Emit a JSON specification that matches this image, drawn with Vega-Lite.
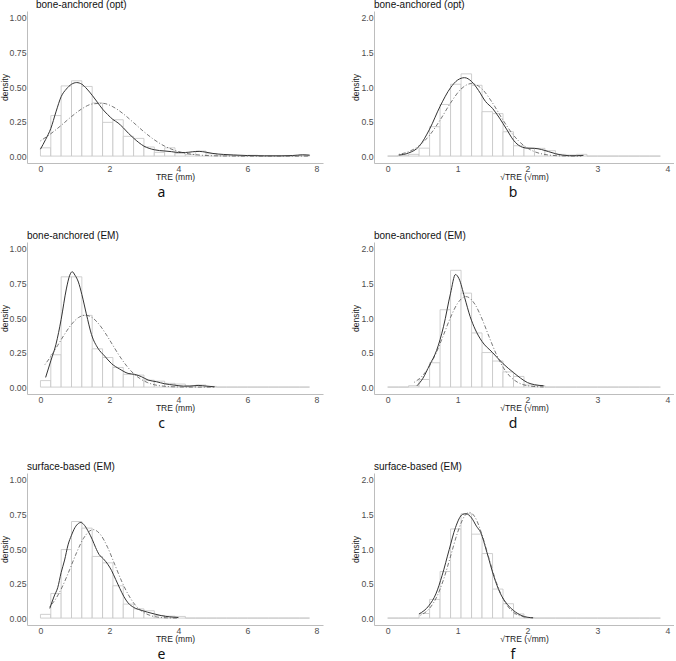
{
 "$schema": "https://vega.github.io/schema/vega-lite/v6.json",
 "padding": {"left": 0, "top": 0, "right": 0, "bottom": 0},
 "background": "white",
 "config": {
  "view": {"stroke": null},
  "font": "Liberation Sans",
  "axis": {"grid": false, "ticks": false, "domainColor": "#bdbdbd", "domainWidth": 1, "labelColor": "#4d4d4d", "labelFontSize": 8.7, "labelFont": "Liberation Sans", "titleFont": "Liberation Sans", "titleFontSize": 8.5, "titleFontWeight": "normal", "titleColor": "#1a1a1a", "labelFlush": false},
  "axisY": {"titlePadding": 0, "labelPadding": 1},
  "axisX": {"titlePadding": 0, "labelPadding": 1},
  "title": {"fontWeight": "normal"}
 },
 "datasets": {
  "hist": [
   {"p":"a","x":0,"x1":0.3,"y":0.06},{"p":"a","x":0.3,"x1":0.6,"y":0.293},{"p":"a","x":0.6,"x1":0.9,"y":0.508},{"p":"a","x":0.9,"x1":1.2,"y":0.545},{"p":"a","x":1.2,"x1":1.5,"y":0.504},{"p":"a","x":1.5,"x1":1.8,"y":0.385},{"p":"a","x":1.8,"x1":2.1,"y":0.244},{"p":"a","x":2.1,"x1":2.4,"y":0.263},{"p":"a","x":2.4,"x1":2.7,"y":0.143},{"p":"a","x":2.7,"x1":3.0,"y":0.128},{"p":"a","x":3.0,"x1":3.3,"y":0.066},{"p":"a","x":3.3,"x1":3.6,"y":0.027},{"p":"a","x":3.6,"x1":3.9,"y":0.06},{"p":"a","x":3.9,"x1":4.2,"y":0.018},{"p":"a","x":4.2,"x1":4.5,"y":0.012},{"p":"a","x":4.5,"x1":4.8,"y":0.036},{"p":"a","x":4.8,"x1":5.1,"y":0.017},{"p":"a","x":5.1,"x1":5.4,"y":0.006},{"p":"a","x":5.4,"x1":5.7,"y":0.006},{"p":"a","x":5.7,"x1":6.0,"y":0},{"p":"a","x":6.0,"x1":6.3,"y":0.006},{"p":"a","x":6.3,"x1":6.6,"y":0},{"p":"a","x":6.6,"x1":6.9,"y":0},{"p":"a","x":6.9,"x1":7.2,"y":0},{"p":"a","x":7.2,"x1":7.5,"y":0},{"p":"a","x":7.5,"x1":7.8,"y":0.01},
   {"p":"b","x":0,"x1":0.15,"y":0},{"p":"b","x":0.15,"x1":0.3,"y":0.012},{"p":"b","x":0.3,"x1":0.45,"y":0.025},{"p":"b","x":0.45,"x1":0.6,"y":0.115},{"p":"b","x":0.6,"x1":0.75,"y":0.425},{"p":"b","x":0.75,"x1":0.9,"y":0.747},{"p":"b","x":0.9,"x1":1.05,"y":1.04},{"p":"b","x":1.05,"x1":1.2,"y":1.19},{"p":"b","x":1.2,"x1":1.35,"y":1.025},{"p":"b","x":1.35,"x1":1.5,"y":0.643},{"p":"b","x":1.5,"x1":1.65,"y":0.615},{"p":"b","x":1.65,"x1":1.8,"y":0.352},{"p":"b","x":1.8,"x1":1.95,"y":0.15},{"p":"b","x":1.95,"x1":2.1,"y":0.115},{"p":"b","x":2.1,"x1":2.25,"y":0.112},{"p":"b","x":2.25,"x1":2.4,"y":0.078},{"p":"b","x":2.4,"x1":2.55,"y":0.025},{"p":"b","x":2.55,"x1":2.7,"y":0.015},{"p":"b","x":2.7,"x1":2.85,"y":0.025},{"p":"b","x":2.85,"x1":3.0,"y":0},{"p":"b","x":3.0,"x1":3.15,"y":0},{"p":"b","x":3.15,"x1":3.3,"y":0},{"p":"b","x":3.3,"x1":3.45,"y":0},{"p":"b","x":3.45,"x1":3.6,"y":0},{"p":"b","x":3.6,"x1":3.75,"y":0},{"p":"b","x":3.75,"x1":3.9,"y":0},
   {"p":"c","x":0,"x1":0.3,"y":0.047},{"p":"c","x":0.3,"x1":0.6,"y":0.234},{"p":"c","x":0.6,"x1":0.9,"y":0.798},{"p":"c","x":0.9,"x1":1.2,"y":0.798},{"p":"c","x":1.2,"x1":1.5,"y":0.519},{"p":"c","x":1.5,"x1":1.8,"y":0.277},{"p":"c","x":1.8,"x1":2.1,"y":0.214},{"p":"c","x":2.1,"x1":2.4,"y":0.142},{"p":"c","x":2.4,"x1":2.7,"y":0.092},{"p":"c","x":2.7,"x1":3.0,"y":0.087},{"p":"c","x":3.0,"x1":3.3,"y":0.05},{"p":"c","x":3.3,"x1":3.6,"y":0.043},{"p":"c","x":3.6,"x1":3.9,"y":0.027},{"p":"c","x":3.9,"x1":4.2,"y":0.022},{"p":"c","x":4.2,"x1":4.5,"y":0.01},{"p":"c","x":4.5,"x1":4.8,"y":0.015},{"p":"c","x":4.8,"x1":5.1,"y":0.005},{"p":"c","x":5.1,"x1":5.4,"y":0},{"p":"c","x":5.4,"x1":5.7,"y":0},{"p":"c","x":5.7,"x1":6.0,"y":0},{"p":"c","x":6.0,"x1":6.3,"y":0},{"p":"c","x":6.3,"x1":6.6,"y":0},{"p":"c","x":6.6,"x1":6.9,"y":0},{"p":"c","x":6.9,"x1":7.2,"y":0},{"p":"c","x":7.2,"x1":7.5,"y":0},{"p":"c","x":7.5,"x1":7.8,"y":0},
   {"p":"d","x":0,"x1":0.15,"y":0},{"p":"d","x":0.15,"x1":0.3,"y":0},{"p":"d","x":0.3,"x1":0.45,"y":0.02},{"p":"d","x":0.45,"x1":0.6,"y":0.11},{"p":"d","x":0.6,"x1":0.75,"y":0.352},{"p":"d","x":0.75,"x1":0.9,"y":1.12},{"p":"d","x":0.9,"x1":1.05,"y":1.69},{"p":"d","x":1.05,"x1":1.2,"y":1.36},{"p":"d","x":1.2,"x1":1.35,"y":0.784},{"p":"d","x":1.35,"x1":1.5,"y":0.5},{"p":"d","x":1.5,"x1":1.65,"y":0.377},{"p":"d","x":1.65,"x1":1.8,"y":0.22},{"p":"d","x":1.8,"x1":1.95,"y":0.154},{"p":"d","x":1.95,"x1":2.1,"y":0.03},{"p":"d","x":2.1,"x1":2.25,"y":0.02},{"p":"d","x":2.25,"x1":2.4,"y":0},{"p":"d","x":2.4,"x1":2.55,"y":0},{"p":"d","x":2.55,"x1":2.7,"y":0},{"p":"d","x":2.7,"x1":2.85,"y":0},{"p":"d","x":2.85,"x1":3.0,"y":0},{"p":"d","x":3.0,"x1":3.15,"y":0},{"p":"d","x":3.15,"x1":3.3,"y":0},{"p":"d","x":3.3,"x1":3.45,"y":0},{"p":"d","x":3.45,"x1":3.6,"y":0},{"p":"d","x":3.6,"x1":3.75,"y":0},{"p":"d","x":3.75,"x1":3.9,"y":0},
   {"p":"e","x":0,"x1":0.3,"y":0.027},{"p":"e","x":0.3,"x1":0.6,"y":0.178},{"p":"e","x":0.6,"x1":0.9,"y":0.496},{"p":"e","x":0.9,"x1":1.2,"y":0.699},{"p":"e","x":1.2,"x1":1.5,"y":0.651},{"p":"e","x":1.5,"x1":1.8,"y":0.446},{"p":"e","x":1.8,"x1":2.1,"y":0.4},{"p":"e","x":2.1,"x1":2.4,"y":0.234},{"p":"e","x":2.4,"x1":2.7,"y":0.101},{"p":"e","x":2.7,"x1":3.0,"y":0.067},{"p":"e","x":3.0,"x1":3.3,"y":0.053},{"p":"e","x":3.3,"x1":3.6,"y":0.019},{"p":"e","x":3.6,"x1":3.9,"y":0.014},{"p":"e","x":3.9,"x1":4.2,"y":0.012},{"p":"e","x":4.2,"x1":4.5,"y":0},{"p":"e","x":4.5,"x1":4.8,"y":0},{"p":"e","x":4.8,"x1":5.1,"y":0},{"p":"e","x":5.1,"x1":5.4,"y":0},{"p":"e","x":5.4,"x1":5.7,"y":0},{"p":"e","x":5.7,"x1":6.0,"y":0},{"p":"e","x":6.0,"x1":6.3,"y":0},{"p":"e","x":6.3,"x1":6.6,"y":0},{"p":"e","x":6.6,"x1":6.9,"y":0},{"p":"e","x":6.9,"x1":7.2,"y":0},{"p":"e","x":7.2,"x1":7.5,"y":0},{"p":"e","x":7.5,"x1":7.8,"y":0},
   {"p":"f","x":0,"x1":0.15,"y":0},{"p":"f","x":0.15,"x1":0.3,"y":0},{"p":"f","x":0.3,"x1":0.45,"y":0},{"p":"f","x":0.45,"x1":0.6,"y":0.066},{"p":"f","x":0.6,"x1":0.75,"y":0.27},{"p":"f","x":0.75,"x1":0.9,"y":0.675},{"p":"f","x":0.9,"x1":1.05,"y":1.29},{"p":"f","x":1.05,"x1":1.2,"y":1.51},{"p":"f","x":1.2,"x1":1.35,"y":1.215},{"p":"f","x":1.35,"x1":1.5,"y":0.934},{"p":"f","x":1.5,"x1":1.65,"y":0.42},{"p":"f","x":1.65,"x1":1.8,"y":0.208},{"p":"f","x":1.8,"x1":1.95,"y":0.06},{"p":"f","x":1.95,"x1":2.1,"y":0.005},{"p":"f","x":2.1,"x1":2.25,"y":0},{"p":"f","x":2.25,"x1":2.4,"y":0},{"p":"f","x":2.4,"x1":2.55,"y":0},{"p":"f","x":2.55,"x1":2.7,"y":0},{"p":"f","x":2.7,"x1":2.85,"y":0},{"p":"f","x":2.85,"x1":3.0,"y":0},{"p":"f","x":3.0,"x1":3.15,"y":0},{"p":"f","x":3.15,"x1":3.3,"y":0},{"p":"f","x":3.3,"x1":3.45,"y":0},{"p":"f","x":3.45,"x1":3.6,"y":0},{"p":"f","x":3.6,"x1":3.75,"y":0},{"p":"f","x":3.75,"x1":3.9,"y":0}
  ],
  "kde": [
   {"p":"a","x":0.0,"y":0.05},{"p":"a","x":0.15,"y":0.12},{"p":"a","x":0.3,"y":0.2},{"p":"a","x":0.45,"y":0.32},{"p":"a","x":0.6,"y":0.43},{"p":"a","x":0.75,"y":0.485},{"p":"a","x":0.9,"y":0.52},{"p":"a","x":1.05,"y":0.532},{"p":"a","x":1.2,"y":0.52},{"p":"a","x":1.35,"y":0.485},{"p":"a","x":1.5,"y":0.44},{"p":"a","x":1.65,"y":0.39},{"p":"a","x":1.8,"y":0.34},{"p":"a","x":1.95,"y":0.3},{"p":"a","x":2.1,"y":0.265},{"p":"a","x":2.25,"y":0.24},{"p":"a","x":2.4,"y":0.205},{"p":"a","x":2.55,"y":0.165},{"p":"a","x":2.7,"y":0.13},{"p":"a","x":2.85,"y":0.098},{"p":"a","x":3.0,"y":0.072},{"p":"a","x":3.15,"y":0.056},{"p":"a","x":3.3,"y":0.046},{"p":"a","x":3.45,"y":0.04},{"p":"a","x":3.6,"y":0.037},{"p":"a","x":3.8,"y":0.032},{"p":"a","x":4.0,"y":0.026},{"p":"a","x":4.2,"y":0.026},{"p":"a","x":4.4,"y":0.031},{"p":"a","x":4.6,"y":0.034},{"p":"a","x":4.8,"y":0.028},{"p":"a","x":5.0,"y":0.019},{"p":"a","x":5.3,"y":0.012},{"p":"a","x":5.6,"y":0.008},{"p":"a","x":6.0,"y":0.004},{"p":"a","x":6.5,"y":0.002},{"p":"a","x":7.0,"y":0.002},{"p":"a","x":7.3,"y":0.004},{"p":"a","x":7.6,"y":0.009},{"p":"a","x":7.8,"y":0.006},
   {"p":"b","x":0.16,"y":0.015},{"p":"b","x":0.3,"y":0.045},{"p":"b","x":0.45,"y":0.14},{"p":"b","x":0.6,"y":0.39},{"p":"b","x":0.75,"y":0.72},{"p":"b","x":0.9,"y":0.99},{"p":"b","x":1.0,"y":1.1},{"p":"b","x":1.1,"y":1.135},{"p":"b","x":1.2,"y":1.08},{"p":"b","x":1.3,"y":0.95},{"p":"b","x":1.4,"y":0.79},{"p":"b","x":1.5,"y":0.69},{"p":"b","x":1.6,"y":0.55},{"p":"b","x":1.7,"y":0.39},{"p":"b","x":1.8,"y":0.23},{"p":"b","x":1.9,"y":0.14},{"p":"b","x":2.0,"y":0.115},{"p":"b","x":2.1,"y":0.112},{"p":"b","x":2.2,"y":0.095},{"p":"b","x":2.3,"y":0.065},{"p":"b","x":2.4,"y":0.035},{"p":"b","x":2.5,"y":0.014},{"p":"b","x":2.6,"y":0.006},{"p":"b","x":2.7,"y":0.006},{"p":"b","x":2.8,"y":0.01},
   {"p":"c","x":0.15,"y":0.07},{"p":"c","x":0.3,"y":0.19},{"p":"c","x":0.45,"y":0.31},{"p":"c","x":0.6,"y":0.49},{"p":"c","x":0.75,"y":0.71},{"p":"c","x":0.85,"y":0.81},{"p":"c","x":0.92,"y":0.835},{"p":"c","x":1.0,"y":0.81},{"p":"c","x":1.1,"y":0.76},{"p":"c","x":1.2,"y":0.67},{"p":"c","x":1.33,"y":0.53},{"p":"c","x":1.48,"y":0.38},{"p":"c","x":1.67,"y":0.28},{"p":"c","x":1.86,"y":0.225},{"p":"c","x":2.06,"y":0.17},{"p":"c","x":2.3,"y":0.13},{"p":"c","x":2.54,"y":0.099},{"p":"c","x":2.73,"y":0.092},{"p":"c","x":2.93,"y":0.075},{"p":"c","x":3.12,"y":0.051},{"p":"c","x":3.36,"y":0.039},{"p":"c","x":3.6,"y":0.024},{"p":"c","x":3.89,"y":0.014},{"p":"c","x":4.14,"y":0.007},{"p":"c","x":4.33,"y":0.007},{"p":"c","x":4.57,"y":0.012},{"p":"c","x":4.81,"y":0.007},{"p":"c","x":5.05,"y":0.002},
   {"p":"d","x":0.42,"y":0.02},{"p":"d","x":0.5,"y":0.12},{"p":"d","x":0.6,"y":0.32},{"p":"d","x":0.7,"y":0.53},{"p":"d","x":0.8,"y":0.88},{"p":"d","x":0.9,"y":1.36},{"p":"d","x":0.97,"y":1.63},{"p":"d","x":1.02,"y":1.57},{"p":"d","x":1.1,"y":1.3},{"p":"d","x":1.18,"y":1.02},{"p":"d","x":1.25,"y":0.84},{"p":"d","x":1.35,"y":0.66},{"p":"d","x":1.5,"y":0.5},{"p":"d","x":1.65,"y":0.34},{"p":"d","x":1.8,"y":0.21},{"p":"d","x":1.9,"y":0.13},{"p":"d","x":2.0,"y":0.065},{"p":"d","x":2.1,"y":0.035},{"p":"d","x":2.23,"y":0.02},
   {"p":"e","x":0.27,"y":0.07},{"p":"e","x":0.4,"y":0.16},{"p":"e","x":0.5,"y":0.22},{"p":"e","x":0.6,"y":0.33},{"p":"e","x":0.7,"y":0.42},{"p":"e","x":0.8,"y":0.53},{"p":"e","x":0.9,"y":0.6},{"p":"e","x":1.0,"y":0.655},{"p":"e","x":1.1,"y":0.685},{"p":"e","x":1.17,"y":0.692},{"p":"e","x":1.28,"y":0.67},{"p":"e","x":1.4,"y":0.62},{"p":"e","x":1.5,"y":0.57},{"p":"e","x":1.6,"y":0.51},{"p":"e","x":1.7,"y":0.46},{"p":"e","x":1.82,"y":0.43},{"p":"e","x":1.95,"y":0.39},{"p":"e","x":2.06,"y":0.345},{"p":"e","x":2.18,"y":0.28},{"p":"e","x":2.3,"y":0.215},{"p":"e","x":2.42,"y":0.155},{"p":"e","x":2.54,"y":0.11},{"p":"e","x":2.7,"y":0.078},{"p":"e","x":2.9,"y":0.058},{"p":"e","x":3.1,"y":0.043},{"p":"e","x":3.3,"y":0.03},{"p":"e","x":3.5,"y":0.018},{"p":"e","x":3.75,"y":0.009},{"p":"e","x":4.0,"y":0.004},
   {"p":"f","x":0.45,"y":0.06},{"p":"f","x":0.59,"y":0.18},{"p":"f","x":0.69,"y":0.35},{"p":"f","x":0.78,"y":0.62},{"p":"f","x":0.88,"y":0.99},{"p":"f","x":0.97,"y":1.31},{"p":"f","x":1.07,"y":1.5},{"p":"f","x":1.12,"y":1.51},{"p":"f","x":1.2,"y":1.45},{"p":"f","x":1.27,"y":1.33},{"p":"f","x":1.33,"y":1.24},{"p":"f","x":1.42,"y":0.95},{"p":"f","x":1.52,"y":0.6},{"p":"f","x":1.61,"y":0.36},{"p":"f","x":1.71,"y":0.2},{"p":"f","x":1.8,"y":0.11},{"p":"f","x":1.92,"y":0.035},{"p":"f","x":2.0,"y":0.012},{"p":"f","x":2.08,"y":0.005}
  ],
  "norm": [
   {"p":"a","x":0,"y":0.11},{"p":"a","x":0.3,"y":0.162},{"p":"a","x":0.6,"y":0.222},{"p":"a","x":0.9,"y":0.286},{"p":"a","x":1.2,"y":0.342},{"p":"a","x":1.5,"y":0.377},{"p":"a","x":1.8,"y":0.382},{"p":"a","x":2.1,"y":0.357},{"p":"a","x":2.4,"y":0.306},{"p":"a","x":2.7,"y":0.242},{"p":"a","x":3.0,"y":0.176},{"p":"a","x":3.3,"y":0.118},{"p":"a","x":3.6,"y":0.072},{"p":"a","x":3.9,"y":0.041},{"p":"a","x":4.2,"y":0.021},{"p":"a","x":4.5,"y":0.01},{"p":"a","x":4.8,"y":0.0045},{"p":"a","x":5.1,"y":0.0018},{"p":"a","x":5.5,"y":0.0005},{"p":"a","x":6.0,"y":0},{"p":"a","x":7.8,"y":0},
   {"p":"b","x":0.16,"y":0.025},{"p":"b","x":0.3,"y":0.064},{"p":"b","x":0.45,"y":0.15},{"p":"b","x":0.6,"y":0.302},{"p":"b","x":0.75,"y":0.521},{"p":"b","x":0.9,"y":0.769},{"p":"b","x":1.05,"y":0.971},{"p":"b","x":1.2,"y":1.05},{"p":"b","x":1.35,"y":0.971},{"p":"b","x":1.5,"y":0.769},{"p":"b","x":1.65,"y":0.521},{"p":"b","x":1.8,"y":0.302},{"p":"b","x":1.95,"y":0.15},{"p":"b","x":2.1,"y":0.064},{"p":"b","x":2.25,"y":0.023},{"p":"b","x":2.4,"y":0.007},{"p":"b","x":2.55,"y":0.002},{"p":"b","x":2.77,"y":0},
   {"p":"c","x":0.13,"y":0.163},{"p":"c","x":0.3,"y":0.222},{"p":"c","x":0.5,"y":0.302},{"p":"c","x":0.7,"y":0.383},{"p":"c","x":0.9,"y":0.454},{"p":"c","x":1.1,"y":0.503},{"p":"c","x":1.3,"y":0.52},{"p":"c","x":1.5,"y":0.503},{"p":"c","x":1.7,"y":0.454},{"p":"c","x":1.9,"y":0.383},{"p":"c","x":2.1,"y":0.302},{"p":"c","x":2.3,"y":0.222},{"p":"c","x":2.5,"y":0.153},{"p":"c","x":2.7,"y":0.098},{"p":"c","x":2.9,"y":0.059},{"p":"c","x":3.1,"y":0.033},{"p":"c","x":3.3,"y":0.017},{"p":"c","x":3.6,"y":0.006},{"p":"c","x":4.0,"y":0.001},{"p":"c","x":4.5,"y":0},{"p":"c","x":5.05,"y":0},
   {"p":"d","x":0.38,"y":0.069},{"p":"d","x":0.5,"y":0.166},{"p":"d","x":0.6,"y":0.306},{"p":"d","x":0.7,"y":0.508},{"p":"d","x":0.8,"y":0.756},{"p":"d","x":0.9,"y":1.01},{"p":"d","x":1.0,"y":1.212},{"p":"d","x":1.12,"y":1.31},{"p":"d","x":1.25,"y":1.196},{"p":"d","x":1.35,"y":0.986},{"p":"d","x":1.45,"y":0.73},{"p":"d","x":1.55,"y":0.485},{"p":"d","x":1.65,"y":0.289},{"p":"d","x":1.75,"y":0.155},{"p":"d","x":1.85,"y":0.075},{"p":"d","x":1.95,"y":0.032},{"p":"d","x":2.05,"y":0.013},{"p":"d","x":2.23,"y":0.002},
   {"p":"e","x":0.27,"y":0.083},{"p":"e","x":0.45,"y":0.142},{"p":"e","x":0.65,"y":0.236},{"p":"e","x":0.85,"y":0.353},{"p":"e","x":1.05,"y":0.475},{"p":"e","x":1.25,"y":0.578},{"p":"e","x":1.53,"y":0.64},{"p":"e","x":1.75,"y":0.601},{"p":"e","x":1.95,"y":0.51},{"p":"e","x":2.15,"y":0.39},{"p":"e","x":2.35,"y":0.269},{"p":"e","x":2.55,"y":0.168},{"p":"e","x":2.75,"y":0.094},{"p":"e","x":2.95,"y":0.048},{"p":"e","x":3.15,"y":0.022},{"p":"e","x":3.4,"y":0.007},{"p":"e","x":3.7,"y":0.0015},{"p":"e","x":4.0,"y":0.0003},
   {"p":"f","x":0.47,"y":0.042},{"p":"f","x":0.6,"y":0.141},{"p":"f","x":0.7,"y":0.302},{"p":"f","x":0.8,"y":0.56},{"p":"f","x":0.9,"y":0.896},{"p":"f","x":1.0,"y":1.238},{"p":"f","x":1.1,"y":1.476},{"p":"f","x":1.17,"y":1.53},{"p":"f","x":1.25,"y":1.46},{"p":"f","x":1.35,"y":1.206},{"p":"f","x":1.45,"y":0.861},{"p":"f","x":1.55,"y":0.53},{"p":"f","x":1.65,"y":0.282},{"p":"f","x":1.75,"y":0.13},{"p":"f","x":1.85,"y":0.051},{"p":"f","x":1.95,"y":0.018},{"p":"f","x":2.08,"y":0.0035}
  ]
 },
 "spacing": 30,
 "vconcat": [
  {"spacing": 28, "hconcat": [
   {"title": {"text": "a", "orient": "bottom", "anchor": "middle", "frame": "bounds", "font": "Noto Sans", "fontSize": 14, "color": "#111", "offset": 5},
    "vconcat": [{"width": 296, "height": 152,
     "title": {"text": "bone-anchored (opt)", "anchor": "start", "frame": "group", "fontSize": 10, "font": "Liberation Sans", "color": "#111", "offset": 1, "dx": 9},
     "encoding": {
      "x": {"field": "x", "type": "quantitative", "scale": {"domain": [-0.39, 8.19], "nice": false, "zero": false}, "axis": {"values": [0, 2, 4, 6, 8], "title": "TRE (mm)"}},
      "y": {"field": "y", "type": "quantitative", "scale": {"domain": [-0.05, 1.05], "nice": false, "zero": false}, "axis": {"values": [0, 0.25, 0.5, 0.75, 1], "format": ".2f", "title": "density"}}},
     "layer": [
      {"data": {"name": "hist"}, "transform": [{"filter": "datum.p === 'a'"}], "mark": {"type": "rect", "fill": "white", "stroke": "#c4c4c4", "strokeWidth": 0.8}, "encoding": {"x2": {"field": "x1"}, "y2": {"datum": 0}}},
      {"data": {"name": "kde"}, "transform": [{"filter": "datum.p === 'a'"}], "mark": {"type": "line", "color": "#333", "strokeWidth": 1, "interpolate": "monotone"}, "encoding": {}},
      {"data": {"name": "norm"}, "transform": [{"filter": "datum.p === 'a'"}], "mark": {"type": "line", "color": "#555", "strokeWidth": 0.8, "strokeDash": [1, 2, 4, 2], "interpolate": "monotone"}, "encoding": {}}
     ]}]},
   {"title": {"text": "b", "orient": "bottom", "anchor": "middle", "frame": "bounds", "font": "Noto Sans", "fontSize": 14, "color": "#111", "offset": 5},
    "vconcat": [{"width": 300, "height": 152,
     "title": {"text": "bone-anchored (opt)", "anchor": "start", "frame": "group", "fontSize": 10, "font": "Liberation Sans", "color": "#111", "offset": 1},
     "encoding": {
      "x": {"field": "x", "type": "quantitative", "scale": {"domain": [-0.195, 4.095], "nice": false, "zero": false}, "axis": {"values": [0, 1, 2, 3, 4], "title": "√TRE (√mm)"}},
      "y": {"field": "y", "type": "quantitative", "scale": {"domain": [-0.1, 2.1], "nice": false, "zero": false}, "axis": {"values": [0, 0.5, 1, 1.5, 2], "format": ".1f", "title": "density"}}},
     "layer": [
      {"data": {"name": "hist"}, "transform": [{"filter": "datum.p === 'b'"}], "mark": {"type": "rect", "fill": "white", "stroke": "#c4c4c4", "strokeWidth": 0.8}, "encoding": {"x2": {"field": "x1"}, "y2": {"datum": 0}}},
      {"data": {"name": "kde"}, "transform": [{"filter": "datum.p === 'b'"}], "mark": {"type": "line", "color": "#333", "strokeWidth": 1, "interpolate": "monotone"}, "encoding": {}},
      {"data": {"name": "norm"}, "transform": [{"filter": "datum.p === 'b'"}], "mark": {"type": "line", "color": "#555", "strokeWidth": 0.8, "strokeDash": [1, 2, 4, 2], "interpolate": "monotone"}, "encoding": {}}
     ]}]}
  ]},
  {"spacing": 28, "hconcat": [
   {"title": {"text": "c", "orient": "bottom", "anchor": "middle", "frame": "bounds", "font": "Noto Sans", "fontSize": 14, "color": "#111", "offset": 5},
    "vconcat": [{"width": 296, "height": 152,
     "title": {"text": "bone-anchored (EM)", "anchor": "start", "frame": "group", "fontSize": 10, "font": "Liberation Sans", "color": "#111", "offset": 1},
     "encoding": {
      "x": {"field": "x", "type": "quantitative", "scale": {"domain": [-0.39, 8.19], "nice": false, "zero": false}, "axis": {"values": [0, 2, 4, 6, 8], "title": "TRE (mm)"}},
      "y": {"field": "y", "type": "quantitative", "scale": {"domain": [-0.05, 1.05], "nice": false, "zero": false}, "axis": {"values": [0, 0.25, 0.5, 0.75, 1], "format": ".2f", "title": "density"}}},
     "layer": [
      {"data": {"name": "hist"}, "transform": [{"filter": "datum.p === 'c'"}], "mark": {"type": "rect", "fill": "white", "stroke": "#c4c4c4", "strokeWidth": 0.8}, "encoding": {"x2": {"field": "x1"}, "y2": {"datum": 0}}},
      {"data": {"name": "kde"}, "transform": [{"filter": "datum.p === 'c'"}], "mark": {"type": "line", "color": "#333", "strokeWidth": 1, "interpolate": "monotone"}, "encoding": {}},
      {"data": {"name": "norm"}, "transform": [{"filter": "datum.p === 'c'"}], "mark": {"type": "line", "color": "#555", "strokeWidth": 0.8, "strokeDash": [1, 2, 4, 2], "interpolate": "monotone"}, "encoding": {}}
     ]}]},
   {"title": {"text": "d", "orient": "bottom", "anchor": "middle", "frame": "bounds", "font": "Noto Sans", "fontSize": 14, "color": "#111", "offset": 5},
    "vconcat": [{"width": 300, "height": 152,
     "title": {"text": "bone-anchored (EM)", "anchor": "start", "frame": "group", "fontSize": 10, "font": "Liberation Sans", "color": "#111", "offset": 1},
     "encoding": {
      "x": {"field": "x", "type": "quantitative", "scale": {"domain": [-0.195, 4.095], "nice": false, "zero": false}, "axis": {"values": [0, 1, 2, 3, 4], "title": "√TRE (√mm)"}},
      "y": {"field": "y", "type": "quantitative", "scale": {"domain": [-0.1, 2.1], "nice": false, "zero": false}, "axis": {"values": [0, 0.5, 1, 1.5, 2], "format": ".1f", "title": "density"}}},
     "layer": [
      {"data": {"name": "hist"}, "transform": [{"filter": "datum.p === 'd'"}], "mark": {"type": "rect", "fill": "white", "stroke": "#c4c4c4", "strokeWidth": 0.8}, "encoding": {"x2": {"field": "x1"}, "y2": {"datum": 0}}},
      {"data": {"name": "kde"}, "transform": [{"filter": "datum.p === 'd'"}], "mark": {"type": "line", "color": "#333", "strokeWidth": 1, "interpolate": "monotone"}, "encoding": {}},
      {"data": {"name": "norm"}, "transform": [{"filter": "datum.p === 'd'"}], "mark": {"type": "line", "color": "#555", "strokeWidth": 0.8, "strokeDash": [1, 2, 4, 2], "interpolate": "monotone"}, "encoding": {}}
     ]}]}
  ]},
  {"spacing": 28, "hconcat": [
   {"title": {"text": "e", "orient": "bottom", "anchor": "middle", "frame": "bounds", "font": "Noto Sans", "fontSize": 14, "color": "#111", "offset": 5},
    "vconcat": [{"width": 296, "height": 152,
     "title": {"text": "surface-based (EM)", "anchor": "start", "frame": "group", "fontSize": 10, "font": "Liberation Sans", "color": "#111", "offset": 1},
     "encoding": {
      "x": {"field": "x", "type": "quantitative", "scale": {"domain": [-0.39, 8.19], "nice": false, "zero": false}, "axis": {"values": [0, 2, 4, 6, 8], "title": "TRE (mm)"}},
      "y": {"field": "y", "type": "quantitative", "scale": {"domain": [-0.05, 1.05], "nice": false, "zero": false}, "axis": {"values": [0, 0.25, 0.5, 0.75, 1], "format": ".2f", "title": "density"}}},
     "layer": [
      {"data": {"name": "hist"}, "transform": [{"filter": "datum.p === 'e'"}], "mark": {"type": "rect", "fill": "white", "stroke": "#c4c4c4", "strokeWidth": 0.8}, "encoding": {"x2": {"field": "x1"}, "y2": {"datum": 0}}},
      {"data": {"name": "kde"}, "transform": [{"filter": "datum.p === 'e'"}], "mark": {"type": "line", "color": "#333", "strokeWidth": 1, "interpolate": "monotone"}, "encoding": {}},
      {"data": {"name": "norm"}, "transform": [{"filter": "datum.p === 'e'"}], "mark": {"type": "line", "color": "#555", "strokeWidth": 0.8, "strokeDash": [1, 2, 4, 2], "interpolate": "monotone"}, "encoding": {}}
     ]}]},
   {"title": {"text": "f", "orient": "bottom", "anchor": "middle", "frame": "bounds", "font": "Noto Sans", "fontSize": 14, "color": "#111", "offset": 5},
    "vconcat": [{"width": 300, "height": 152,
     "title": {"text": "surface-based (EM)", "anchor": "start", "frame": "group", "fontSize": 10, "font": "Liberation Sans", "color": "#111", "offset": 1},
     "encoding": {
      "x": {"field": "x", "type": "quantitative", "scale": {"domain": [-0.195, 4.095], "nice": false, "zero": false}, "axis": {"values": [0, 1, 2, 3, 4], "title": "√TRE (√mm)"}},
      "y": {"field": "y", "type": "quantitative", "scale": {"domain": [-0.1, 2.1], "nice": false, "zero": false}, "axis": {"values": [0, 0.5, 1, 1.5, 2], "format": ".1f", "title": "density"}}},
     "layer": [
      {"data": {"name": "hist"}, "transform": [{"filter": "datum.p === 'f'"}], "mark": {"type": "rect", "fill": "white", "stroke": "#c4c4c4", "strokeWidth": 0.8}, "encoding": {"x2": {"field": "x1"}, "y2": {"datum": 0}}},
      {"data": {"name": "kde"}, "transform": [{"filter": "datum.p === 'f'"}], "mark": {"type": "line", "color": "#333", "strokeWidth": 1, "interpolate": "monotone"}, "encoding": {}},
      {"data": {"name": "norm"}, "transform": [{"filter": "datum.p === 'f'"}], "mark": {"type": "line", "color": "#555", "strokeWidth": 0.8, "strokeDash": [1, 2, 4, 2], "interpolate": "monotone"}, "encoding": {}}
     ]}]}
  ]}
 ]
}
